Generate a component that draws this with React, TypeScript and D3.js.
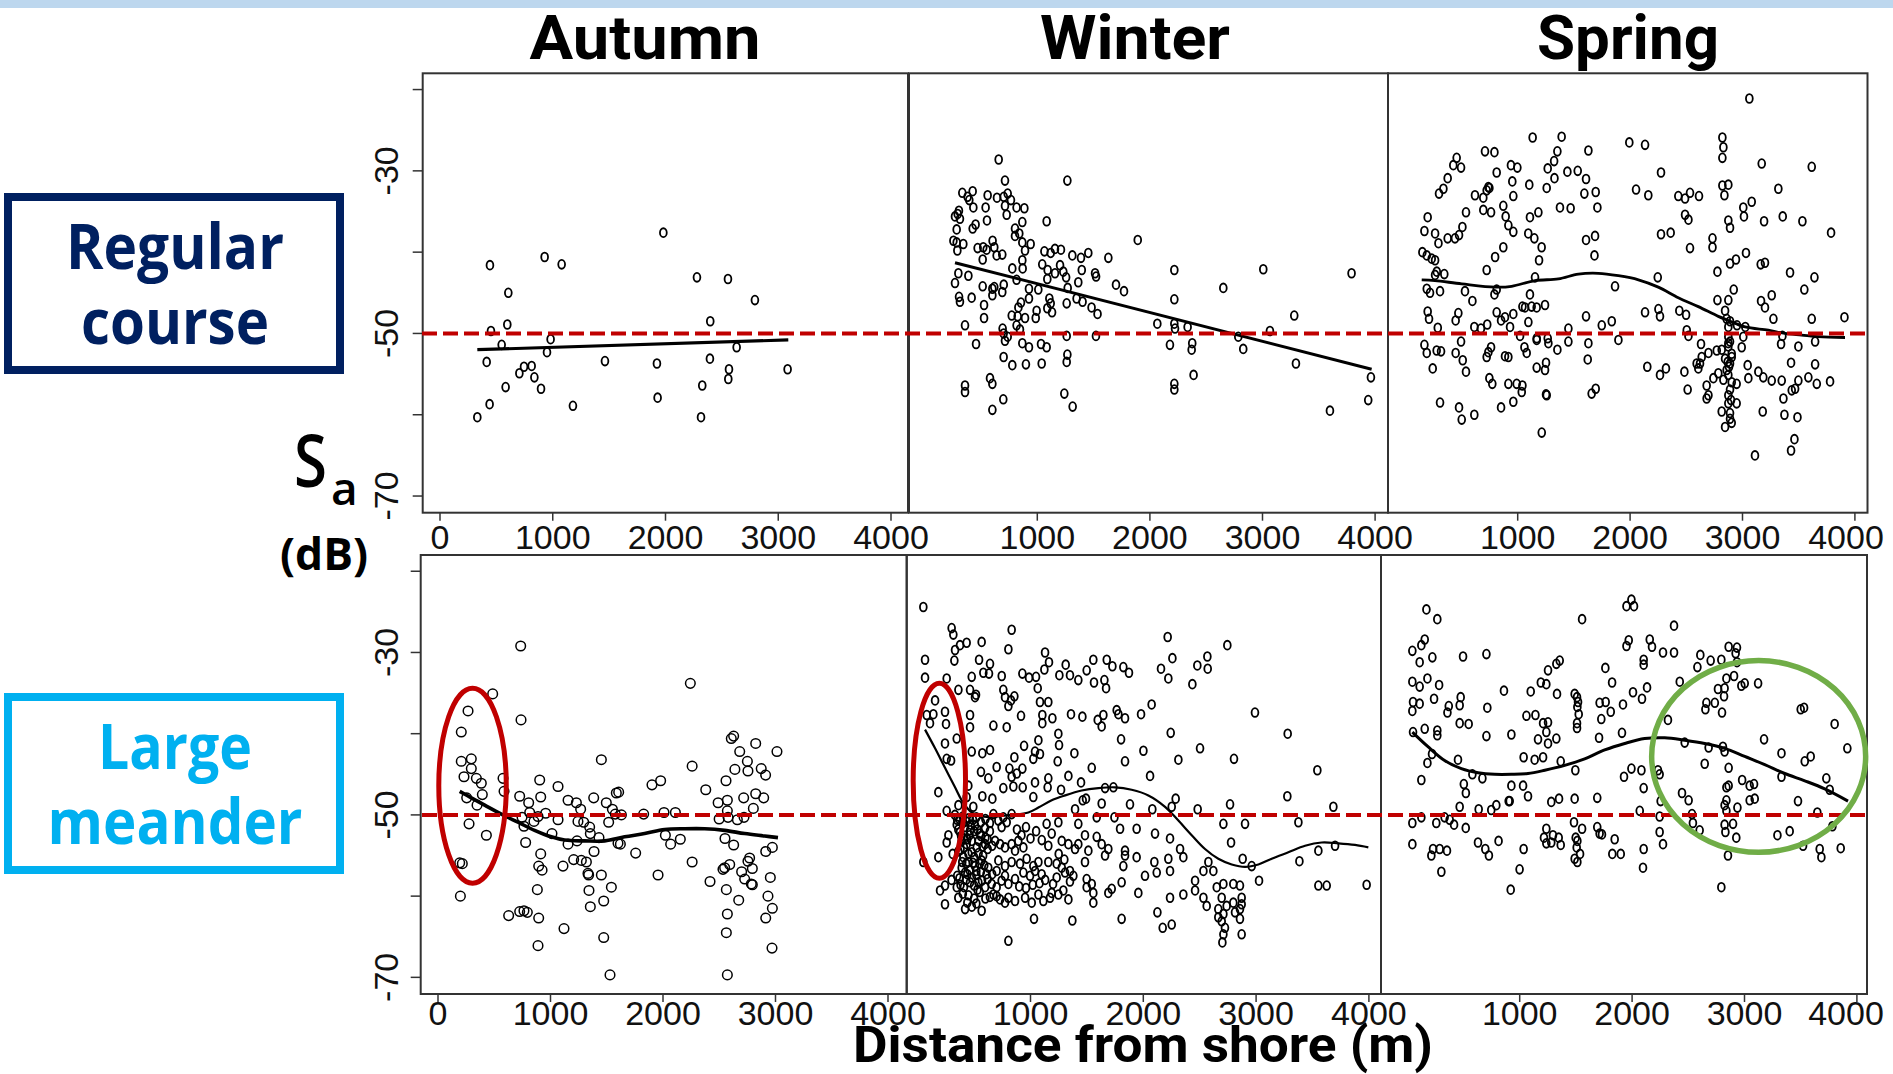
import React from 'react';
import * as d3 from 'd3';

type P = [number, number];

// ---------- data: [distance from shore (m), Sa (dB)] ----------
const autumnRegular: P[] = [[443,-41.6],[606,-45.0],[452,-49.7],[597,-48.9],[547,-51.4],[414,-53.5],[331,-60.3],[440,-58.7],[582,-56.6],[704,-54.9],[745,-54.1],[813,-54.0],[837,-55.4],[896,-56.8],[928,-40.6],[1079,-41.5],[981,-50.7],[949,-52.3],[1179,-58.9],[1463,-53.4],[1981,-37.6],[1924,-53.7],[1930,-57.9],[2279,-43.1],[2554,-43.3],[2793,-45.9],[2397,-48.5],[2631,-51.7],[2394,-53.1],[2563,-54.4],[2557,-55.6],[2326,-56.4],[2315,-60.3],[3083,-54.4]];
const autumnRegularFit: P[] = [[331,-52.0],[3089,-50.8]];

const winterRegular: P[] = [[657,-28.6],[713,-31.2],[1267,-31.2],[334,-32.7],[381,-33.2],[426,-32.5],[396,-33.6],[432,-34.5],[559,-33.0],[642,-33.3],[702,-33.2],[737,-32.8],[766,-33.6],[713,-34.3],[728,-35.4],[816,-34.5],[885,-34.6],[541,-34.5],[269,-35.6],[293,-35.3],[313,-35.9],[304,-34.9],[553,-36.1],[452,-36.6],[426,-37.1],[284,-37.2],[867,-36.3],[802,-37.1],[840,-37.7],[802,-38.0],[1083,-36.2],[255,-38.6],[284,-38.8],[343,-39.0],[290,-39.8],[470,-39.5],[520,-39.4],[550,-39.7],[603,-38.6],[618,-39.4],[867,-38.8],[941,-39.0],[891,-39.8],[639,-40.4],[689,-40.3],[515,-40.9],[1063,-39.9],[1119,-40.1],[1157,-39.6],[1210,-39.7],[1311,-40.4],[1388,-40.7],[1453,-40.1],[1631,-40.7],[1892,-38.5],[867,-41.0],[870,-42.0],[778,-42.0],[299,-42.6],[388,-42.9],[1044,-41.5],[1092,-42.2],[1089,-43.3],[1157,-42.6],[1202,-41.6],[1231,-42.4],[1256,-43.1],[1395,-42.2],[1513,-42.6],[1522,-43.0],[1364,-43.7],[269,-43.8],[515,-44.2],[601,-44.5],[702,-44.0],[618,-44.3],[816,-43.4],[926,-44.5],[1009,-44.6],[1270,-44.4],[1699,-44.0],[1770,-44.8],[305,-45.5],[313,-46.1],[417,-45.6],[601,-45.3],[689,-44.9],[527,-46.5],[926,-45.7],[855,-46.2],[832,-46.8],[1107,-45.7],[1119,-46.3],[1089,-46.9],[1131,-47.4],[1261,-46.3],[1349,-45.7],[1402,-46.1],[1482,-46.8],[1535,-47.6],[527,-48.1],[773,-47.8],[826,-47.9],[891,-48.1],[986,-48.1],[994,-47.2],[358,-49.0],[816,-49.0],[846,-49.5],[692,-49.4],[701,-50.0],[713,-50.9],[737,-50.4],[456,-51.3],[867,-51.2],[926,-51.7],[1033,-51.3],[1083,-51.7],[1261,-50.3],[1521,-50.3],[701,-52.9],[778,-53.9],[899,-53.8],[1039,-53.7],[1267,-52.6],[1261,-53.5],[2066,-48.8],[2217,-42.2],[2217,-45.8],[2217,-48.8],[2223,-49.4],[2335,-49.2],[2178,-51.4],[2376,-51.2],[2371,-52.0],[2388,-55.1],[2217,-56.2],[2217,-56.9],[2652,-44.4],[3007,-42.1],[2785,-50.4],[2829,-51.9],[3066,-49.7],[3282,-47.8],[3297,-53.7],[3791,-42.6],[3963,-55.4],[3939,-58.2],[3599,-59.5],[358,-56.4],[358,-57.2],[580,-55.5],[601,-56.2],[698,-58.1],[601,-59.4],[1240,-57.4],[1314,-59.0]];
const winterRegularFit: P[] = [[269,-41.3],[3969,-54.4]];

const springRegular: P[] = [[3061,-21.1],[1133,-25.9],[1391,-25.8],[1993,-26.5],[2133,-26.8],[2821,-25.9],[2830,-27.1],[2821,-28.4],[709,-27.6],[793,-27.7],[1353,-27.6],[1629,-27.5],[457,-28.4],[427,-29.3],[496,-29.6],[1324,-28.8],[1267,-29.7],[1327,-30.9],[940,-29.3],[997,-29.6],[813,-30.2],[1442,-30.1],[1534,-30.0],[1608,-31.0],[3171,-29.1],[3616,-29.5],[2275,-30.2],[377,-30.9],[339,-32.2],[300,-32.8],[952,-31.3],[1103,-31.7],[1258,-32.1],[748,-32.1],[724,-32.4],[739,-32.0],[620,-33.0],[694,-33.3],[961,-33.1],[1593,-32.8],[1694,-32.6],[2053,-32.3],[2162,-33.0],[2821,-31.8],[2874,-31.7],[2839,-33.0],[3319,-32.2],[2429,-33.1],[2489,-33.4],[2533,-32.7],[2613,-33.1],
[540,-35.1],[694,-34.8],[763,-35.1],[872,-34.3],[893,-35.6],[199,-35.7],[1109,-35.7],[1184,-35.1],[1376,-34.5],[1471,-34.6],[1709,-34.5],[3007,-34.5],[3082,-33.8],[3013,-35.6],[2489,-35.4],[2519,-36.0],[2874,-36.1],[2889,-37.0],[3192,-36.2],[3358,-35.6],[3533,-36.2],[917,-36.7],[961,-37.5],[508,-36.9],[265,-37.7],[170,-37.4],[295,-38.9],[377,-38.3],[442,-38.3],[478,-37.9],[1094,-37.7],[1148,-38.3],[1213,-39.4],[1608,-38.5],[1688,-38.0],[2275,-37.8],[2361,-37.6],[2533,-39.5],[2733,-38.3],[2733,-39.4],[3788,-37.6],
[152,-40.0],[191,-40.4],[235,-40.8],[265,-41.0],[799,-40.6],[872,-39.4],[1190,-41.0],[1683,-40.4],[2942,-40.9],[3031,-40.1],[2889,-41.4],[3162,-41.5],[3200,-41.3],[2777,-42.4],[724,-42.2],[280,-42.4],[347,-42.7],[265,-42.8],[3423,-42.5],[3640,-43.1],[1154,-43.1],[2246,-43.1],[1866,-44.2],[191,-44.5],[220,-45.0],[309,-44.8],[531,-44.8],[597,-46.0],[793,-45.2],[813,-44.6],[1109,-45.2],[2922,-44.6],[3550,-44.6],[3260,-45.3],[2777,-45.9],[2874,-45.9],[3165,-46.0],[3200,-46.8],[1243,-46.5],[1169,-46.8],[1042,-46.7],[1065,-46.8],[1124,-46.7],
[199,-47.3],[211,-48.2],[472,-47.5],[448,-48.4],[813,-47.4],[852,-48.4],[887,-48.0],[961,-47.6],[932,-49.2],[614,-49.2],[673,-49.4],[729,-48.9],[289,-49.3],[1608,-47.9],[1748,-49.0],[1837,-48.5],[1095,-48.6],[1451,-49.4],[2133,-47.4],[2252,-47.0],[2266,-47.9],[2438,-47.2],[2498,-47.7],[2845,-47.2],[2859,-48.2],[2889,-48.5],[2874,-49.2],[2951,-49.0],[3025,-49.2],[3275,-48.2],[3616,-48.2],[3907,-48.0],[2504,-49.6],[2519,-50.3],[1021,-50.3],[1169,-50.6],[1267,-50.6],[1896,-50.8],[3007,-50.4],[3355,-50.3],[3646,-51.0],
[170,-51.4],[191,-52.4],[279,-52.1],[318,-52.2],[448,-52.4],[496,-51.0],[511,-53.3],[244,-54.3],[540,-54.7],[724,-52.9],[763,-51.7],[739,-52.3],[887,-52.8],[917,-52.9],[1060,-51.7],[1080,-52.4],[1169,-50.8],[1273,-51.2],[1353,-52.0],[1451,-51.0],[1629,-51.2],[1623,-53.2],[1252,-53.6],[1169,-54.2],[1243,-54.5],[2631,-51.3],[2697,-52.4],[2771,-52.1],[2637,-52.9],[2622,-53.7],[2815,-52.0],[2874,-51.2],[2904,-52.5],[2993,-51.7],[2845,-53.1],[2889,-53.7],[2859,-54.5],[3343,-51.3],[3497,-51.6],[3432,-53.6],[3646,-53.8],[3046,-53.9],[2153,-54.1],[2319,-54.3],[2483,-54.7],[2592,-53.7],[2607,-54.3],
[2266,-55.1],[748,-55.5],[774,-56.2],[917,-56.2],[991,-56.2],[1042,-56.4],[1036,-57.2],[1252,-57.5],[1258,-57.6],[1658,-57.4],[1694,-56.8],[2512,-56.9],[2681,-56.4],[2741,-55.5],[2785,-54.9],[2830,-55.7],[2697,-57.6],[2681,-58.0],[2874,-55.1],[2904,-56.0],[2948,-56.2],[3052,-55.5],[3141,-54.7],[3185,-55.4],[3260,-55.8],[3349,-55.8],[3438,-57.0],[3468,-56.8],[3497,-55.8],[3586,-55.4],[3661,-56.2],[3779,-55.9],[3364,-58.0],
[309,-58.5],[478,-59.1],[502,-60.6],[614,-60.0],[852,-59.1],[961,-58.4],[1214,-62.2],[2815,-59.6],[2845,-61.5],[2904,-61.0],[2948,-58.6],[2874,-58.6],[2889,-59.8],[2889,-60.5],[3180,-59.6],[3373,-60.0],[3489,-60.3],[3462,-63.0],[3432,-64.4],[3111,-65.0],
[2874,-50.4],[2889,-51.0],[2874,-51.6],[2904,-52.9],[2868,-53.5],[2880,-54.1],[2889,-56.9],[2874,-57.6],[2898,-58.2]];
const springRegularFit: P[] = [[146,-43.4],[264,-43.5],[502,-43.9],[798,-44.3],[946,-44.2],[1154,-43.5],[1362,-43.3],[1540,-42.7],[1718,-42.6],[1896,-42.9],[2074,-43.4],[2251,-44.3],[2429,-45.6],[2607,-46.7],[2785,-47.9],[2874,-48.4],[3023,-49.2],[3230,-49.6],[3378,-50.0],[3527,-50.2],[3675,-50.4],[3912,-50.5]];

const autumnMeander: P[] = [[735,-29.2],[2243,-33.8],[486,-35.1],[267,-37.2],[738,-38.3],[207,-39.8],[207,-43.4],[296,-43.1],[231,-45.3],[296,-44.3],[341,-45.5],[385,-46.1],[394,-47.5],[255,-47.9],[347,-48.8],[276,-51.1],[430,-52.5],[193,-55.9],[216,-56.0],[199,-60.0],[578,-45.5],[587,-47.1],[726,-47.7],[806,-48.5],[913,-47.8],[904,-45.7],[815,-49.7],[747,-50.3],[764,-51.4],[853,-50.8],[889,-50.2],[957,-49.8],[779,-53.4],[913,-54.8],[895,-56.3],[925,-56.8],[883,-59.2],[628,-62.4],[726,-61.9],[764,-61.8],[794,-62.0],[895,-62.7],[889,-66.1],[1067,-46.5],[1156,-48.2],[1230,-48.5],[1268,-49.3],[1067,-50.6],[1013,-52.3],[1156,-53.6],[1236,-53.2],[1244,-50.8],[1295,-50.9],[1348,-51.5],[1354,-52.3],[1384,-47.9],[1387,-54.5],[1206,-55.5],[1274,-55.6],[1319,-55.8],[1111,-56.3],[1333,-57.2],[1339,-57.4],[1431,-52.8],[1452,-57.4],[1342,-59.3],[1354,-61.3],[1541,-58.9],[1473,-60.6],[1473,-65.1],[1120,-64.0],[1529,-69.7],[1452,-43.2],[1496,-48.5],[1550,-49.3],[1576,-49.9],[1630,-50.0],[1517,-50.9],[1585,-47.3],[1606,-47.2],[1600,-53.5],[1621,-53.6],[1757,-54.7],[1828,-49.9],[1902,-46.3],[1979,-45.8],[2009,-49.7],[2110,-49.7],[2021,-52.5],[2068,-53.6],[2154,-53.0],[1956,-57.4],[2259,-44.0],[2380,-46.9],[2490,-48.5],[2499,-50.5],[2259,-55.8],[2418,-58.2],[2607,-40.6],[2628,-40.3],[2682,-42.2],[2750,-43.4],[2824,-41.2],[3013,-42.2],[2639,-44.4],[2755,-44.6],[2873,-44.3],[2912,-45.1],[2560,-45.8],[2572,-48.2],[2717,-47.9],[2824,-47.4],[2895,-47.9],[2572,-49.5],[2578,-50.3],[2661,-50.6],[2720,-50.3],[2803,-49.2],[2551,-52.9],[2628,-53.7],[2913,-54.5],[2972,-54.0],[2533,-56.7],[2548,-56.5],[2593,-56.1],[2770,-55.3],[2755,-55.7],[2699,-57.0],[2794,-56.6],[2726,-57.9],[2785,-58.5],[2794,-58.6],[2563,-59.2],[2673,-60.5],[2954,-57.7],[2933,-60.0],[2972,-61.5],[2913,-62.7],[2572,-62.2],[2563,-64.5],[2969,-66.4],[2572,-69.7]];
const autumnMeanderFit: P[] = [[193,-47.1],[296,-47.9],[415,-48.8],[563,-49.9],[711,-50.9],[859,-51.9],[1007,-52.7],[1126,-53.1],[1304,-53.2],[1482,-53.2],[1659,-52.7],[1837,-52.3],[2015,-51.8],[2193,-51.7],[2370,-51.7],[2548,-51.9],[2726,-52.3],[2904,-52.6],[3022,-52.8]];

const winterMeander: P[] = [[50,-24.4],[301,-27.0],[316,-27.8],[833,-27.2],[65,-30.9],[65,-33.1],[331,-29.7],[375,-29.1],[434,-28.8],[567,-28.7],[325,-31.0],[804,-29.6],[544,-30.9],[641,-31.4],[582,-32.5],[632,-32.6],[479,-33.0],[257,-33.2],[361,-34.6],[745,-32.9],[1129,-30.0],[1164,-31.2],[1123,-32.1],[1049,-33.0],[928,-32.6],[987,-33.1],[1312,-31.5],[1350,-32.8],[1424,-33.4],[1256,-32.8],[1498,-32.2],[1557,-30.9],[1676,-30.9],[1726,-31.7],[1823,-31.8],[1873,-32.5],[1563,-33.7],[1655,-33.4],[1670,-34.4],[2216,-28.1],[2157,-32.0],[2222,-33.2],[2258,-30.7],[2568,-30.5],[2479,-31.6],[2571,-32.0],[2435,-33.9],[2745,-29.1],[464,-34.6],[508,-35.5],[517,-35.2],[759,-34.6],[774,-35.5],[827,-35.9],[857,-35.4],[804,-36.6],[1064,-34.4],[1084,-36.1],[1158,-36.1],[154,-35.9],[242,-37.3],[139,-37.6],[80,-37.7],[109,-38.7],[251,-38.8],[242,-41.2],[257,-43.1],[296,-43.3],[346,-40.6],[464,-37.7],[464,-39.2],[671,-39.0],[789,-39.2],[916,-37.8],[1105,-37.7],[1105,-38.7],[1194,-38.1],[1359,-37.6],[1460,-37.9],[1596,-38.3],[1631,-39.1],[1646,-37.7],[1764,-37.1],[1779,-37.6],[1838,-38.1],[1980,-37.6],[2074,-36.4],[2990,-37.4],[3280,-40.0],[1247,-40.0],[1253,-41.4],[1070,-40.8],[1040,-42.2],[1084,-42.5],[1025,-43.1],[943,-41.5],[857,-42.9],[928,-44.3],[878,-44.9],[641,-42.0],[573,-42.4],[479,-42.2],[700,-44.1],[626,-45.5],[561,-44.7],[813,-44.3],[833,-45.3],[1389,-42.4],[1241,-43.4],[1543,-44.2],[1803,-40.7],[1838,-43.4],[2001,-42.1],[2243,-39.9],[2311,-43.2],[2503,-41.8],[2804,-43.1],[3543,-44.5],[2060,-45.2],[1336,-45.2],[1448,-46.0],[1158,-45.5],[1152,-46.6],[1040,-46.0],[1025,-47.8],[759,-46.7],[848,-46.5],[931,-46.6],[449,-46.4],[573,-47.7],[662,-48.0],[183,-47.2],[1271,-46.9],[1395,-49.3],[1463,-48.2],[1492,-48.0],[1631,-48.6],[1661,-46.7],[1735,-46.6],[1882,-48.7],[2080,-49.3],[2252,-49.0],[2287,-48.0],[2482,-49.3],[2769,-48.7],[3277,-47.7],[3685,-49.0],[257,-49.5],[361,-48.8],[434,-47.8],[493,-49.0],
[346,-51.2],[375,-52.1],[420,-51.5],[464,-51.9],[508,-51.3],[552,-52.3],[597,-51.6],[390,-53.2],[434,-53.6],[479,-53.2],[523,-54.0],[597,-53.6],[479,-54.6],[405,-55.2],[449,-55.8],[508,-56.3],[567,-55.6],[626,-56.5],[390,-56.5],[420,-57.1],[479,-57.7],[538,-58.3],[597,-58.9],[656,-58.5],[464,-58.3],[671,-49.9],[715,-50.7],[759,-50.3],[789,-50.9],[833,-49.9],[744,-51.5],[686,-53.2],[730,-53.6],[774,-54.0],[833,-53.6],[892,-53.2],[937,-54.0],[863,-54.4],[715,-55.6],[774,-56.3],[833,-55.8],[907,-56.0],[966,-55.4],[1025,-56.3],[1070,-55.8],[700,-56.9],[774,-57.5],[744,-58.1],[804,-58.5],[863,-57.9],[937,-57.1],[996,-57.5],[1040,-56.9],[1099,-57.3],[671,-59.8],[730,-60.4],[774,-60.8],[804,-60.2],[863,-60.6],[952,-60.2],[1011,-60.8],[1070,-59.8],[1114,-60.6],[420,-61.6],[567,-61.8],[242,-61.0],[198,-59.3],[346,-58.9],[242,-58.7],[1031,-62.8],[1371,-63.0],[1808,-62.8],[804,-65.5],[183,-55.2],[272,-52.5],[257,-53.4],[50,-55.8],[1143,-51.1],[1188,-52.3],[1247,-50.9],[1277,-53.2],[1336,-53.6],[1395,-54.2],[1158,-53.8],[1158,-55.8],[1232,-56.0],[1277,-56.5],[1306,-57.1],[1350,-56.9],[1380,-57.5],[1232,-57.7],[1188,-59.6],[1247,-59.8],[1291,-59.3],[1336,-60.4],[1173,-60.2],[1424,-51.1],[1483,-52.5],[1587,-52.7],[1631,-53.6],[1690,-54.2],[1661,-55.0],[1513,-54.4],[1424,-53.6],[1483,-55.8],[1498,-57.9],[1543,-58.5],[1498,-58.9],[1557,-59.6],[1557,-60.8],[1690,-59.6],[1720,-59.1],[1808,-58.3],[1587,-50.3],[1744,-50.3],[1794,-51.7],[1941,-51.7],[1838,-54.4],[1838,-55.0],[1941,-55.2],[1823,-56.3],[1956,-59.6],[2015,-57.5],[2098,-55.8],[2119,-57.1],[2104,-52.3],[2237,-52.9],[2222,-55.4],[2237,-56.9],[2237,-60.2],[2172,-63.9],[2252,-63.5],[2125,-62.0],[2355,-59.8],[2326,-54.2],[2355,-55.2],[2459,-58.1],[2459,-59.3],[2533,-60.2],[2562,-61.2],[2533,-56.9],[2621,-56.9],[2577,-55.8],[2651,-58.9],[2710,-58.5],[2695,-60.2],[2665,-61.6],[2710,-62.2],[2695,-63.1],[2724,-63.9],[2710,-64.7],[2739,-61.2],[2665,-62.6],[2701,-65.7],[2798,-58.5],[2857,-58.7],[2872,-60.2],[2857,-61.6],[2813,-62.0],[2857,-62.8],[2872,-64.7],[2798,-60.8],[2872,-61.0],[2710,-51.1],[2902,-51.1],[2778,-53.4],[2881,-55.4],[2961,-56.3],[3026,-58.1],[3375,-50.9],[3384,-55.7],[3552,-58.7],[3626,-58.7],[3980,-58.6],[3552,-54.4],[3700,-53.8],
[370,-50.5],[400,-50.2],[430,-50.8],[455,-50.4],[490,-50.6],[520,-50.3],[560,-50.9],[600,-50.5],[640,-51.0],[380,-54.3],[410,-54.0],[450,-54.8],[500,-55.2],[540,-54.7],[580,-55.0],[620,-54.2],[660,-53.8],[370,-57.8],[430,-58.0],[520,-57.4],[560,-57.0],[620,-57.9],[660,-57.3],[700,-58.9],[400,-59.7],[450,-59.9],[500,-60.3],[550,-59.5],[640,-60.1],[700,-60.0],[880,-51.8],[920,-52.5],[960,-51.5],[1000,-52.9],[1050,-52.0],[1100,-53.1],[900,-58.8],[960,-59.0],[1020,-58.6],[1080,-58.4],[1130,-58.0],[1200,-58.5],[1250,-54.8],[1300,-55.5],[1350,-58.2],
[330,-50.0],[350,-50.6],[360,-51.8],[385,-52.6],[400,-51.0],[415,-52.9],[440,-53.0],[460,-52.5],[470,-51.2],[500,-52.0],[530,-51.8],[540,-53.2],[560,-52.6],[575,-53.9],[600,-52.8],[620,-53.0],[640,-52.0],[360,-54.5],[395,-55.8],[430,-56.0],[460,-56.8],[490,-55.9],[520,-56.9],[550,-56.0],[590,-56.2],[610,-57.3],[350,-57.5],[380,-58.6],[410,-58.9],[440,-57.3],[500,-58.7],[530,-59.2],[570,-58.1],[600,-60.3],[440,-60.8],[480,-61.3],[520,-60.9],[360,-60.2],[310,-54.8],[300,-58.0]];
const winterMeanderFit: P[] = [[65,-39.5],[154,-41.8],[242,-44.2],[331,-46.6],[390,-48.2],[479,-49.7],[567,-50.2],[686,-50.2],[833,-50.0],[981,-49.7],[1070,-49.1],[1188,-48.2],[1306,-47.6],[1454,-47.0],[1602,-46.7],[1749,-46.6],[1897,-46.9],[2045,-47.6],[2193,-49.0],[2311,-50.7],[2429,-52.5],[2547,-54.2],[2665,-55.4],[2784,-56.1],[2902,-56.4],[3020,-56.1],[3138,-55.4],[3286,-54.6],[3434,-53.8],[3581,-53.4],[3729,-53.5],[3877,-53.7],[3995,-54.0]];

const springMeander: P[] = [[170,-24.7],[267,-25.9],[1555,-25.9],[1994,-23.5],[1950,-24.3],[2017,-24.3],[2373,-26.7],[45,-29.8],[125,-29.1],[155,-28.4],[110,-31.2],[223,-30.6],[496,-30.5],[704,-30.2],[1356,-31.0],[1326,-31.4],[1252,-32.2],[1762,-31.9],[1950,-29.2],[1970,-28.5],[2157,-28.4],[2177,-29.3],[2275,-30.0],[2373,-30.0],[2103,-30.9],[2103,-31.5],[2607,-30.3],[2699,-31.0],[2794,-30.9],[2859,-29.3],[2933,-29.4],[2921,-30.1],[2933,-31.2],[2581,-31.8],[45,-33.6],[110,-34.2],[179,-33.2],[283,-34.0],[1188,-33.7],[1237,-33.9],[860,-34.7],[1098,-34.8],[1332,-35.1],[1489,-35.1],[1519,-36.1],[1510,-35.5],[1822,-33.7],[2133,-34.3],[2008,-34.9],[2088,-35.7],[2424,-33.6],[2907,-32.9],[2839,-33.2],[3002,-33.8],[2972,-34.1],[3121,-33.8],[2764,-34.5],[2823,-34.4],[2818,-35.4],[51,-36.1],[110,-36.3],[238,-35.7],[369,-36.6],[475,-35.5],[466,-36.5],[357,-37.4],[45,-37.2],[155,-39.4],[267,-39.6],[267,-40.2],[51,-39.8],[466,-38.7],[546,-38.8],[712,-36.8],[704,-40.3],[926,-40.1],[1060,-37.8],[1140,-37.7],[1208,-38.7],[1252,-38.6],[1237,-39.8],[1163,-40.7],[1252,-41.2],[1326,-40.6],[1513,-36.7],[1525,-37.6],[1510,-38.7],[1510,-39.3],[1711,-36.2],[1765,-36.1],[1810,-37.3],[1726,-38.2],[1919,-36.4],[1910,-39.9],[1706,-40.5],[2661,-36.2],[2736,-36.2],[2652,-37.0],[2800,-37.4],[2319,-38.3],[3530,-36.8],[3500,-37.0],[3802,-38.8],[3174,-40.7],[3329,-42.4],[3589,-42.8],[3536,-43.4],[3915,-41.8],[3728,-45.5],[3758,-46.9],[3476,-48.3],[3648,-49.7],[220,-42.5],[179,-43.6],[451,-43.2],[125,-45.7],[579,-45.0],[668,-45.5],[503,-46.2],[521,-47.3],[1035,-42.9],[1133,-43.2],[1208,-42.9],[1365,-43.4],[1495,-44.5],[926,-46.4],[1030,-46.4],[1074,-47.7],[1690,-47.9],[1489,-48.0],[1350,-48.0],[1281,-48.4],[911,-48.3],[1928,-45.3],[1994,-44.3],[2083,-44.5],[2103,-46.7],[2230,-44.5],[2245,-45.0],[2646,-43.7],[2681,-41.7],[2468,-41.1],[2859,-44.2],[2823,-42.2],[2808,-41.6],[3329,-45.3],[2839,-46.6],[2859,-46.4],[2979,-45.7],[3046,-46.4],[3085,-46.2],[2823,-48.8],[2839,-48.2],[2937,-49.1],[3046,-48.2],[3091,-48.0],[2444,-47.3],[2503,-48.2],[2254,-48.3],[466,-49.0],[635,-49.3],[747,-49.4],[792,-48.8],[902,-48.3],[332,-50.3],[377,-50.6],[416,-51.2],[520,-51.6],[258,-51.0],[125,-50.3],[45,-51.0],[45,-53.6],[214,-55.0],[229,-54.2],[288,-54.2],[353,-54.4],[303,-57.0],[629,-53.4],[694,-54.2],[726,-55.0],[812,-53.2],[1035,-54.2],[999,-56.7],[920,-59.2],[1237,-51.7],[1296,-52.5],[1347,-52.8],[1237,-53.5],[1281,-53.4],[1365,-53.7],[1216,-52.8],[1483,-50.9],[1555,-51.7],[1498,-52.8],[1513,-53.2],[1507,-54.0],[1537,-54.8],[1489,-55.4],[1513,-55.8],[1690,-51.5],[1711,-52.3],[1732,-52.4],[1845,-53.0],[1824,-54.8],[1899,-54.8],[2068,-49.5],[2103,-54.2],[2097,-56.5],[2245,-50.2],[2245,-52.1],[2275,-53.6],[2533,-49.9],[2541,-51.0],[2601,-51.9],[2823,-51.2],[2830,-52.1],[2898,-51.1],[2927,-52.8],[2839,-49.5],[2794,-58.9],[2853,-55.0],[3293,-52.5],[3402,-52.0],[3521,-53.8],[3669,-54.2],[3684,-55.2],[3856,-54.1],[3782,-51.4]];
const springMeanderFit: P[] = [[45,-39.8],[184,-41.6],[332,-43.3],[481,-44.3],[629,-44.8],[777,-45.0],[926,-45.0],[1074,-44.9],[1223,-44.5],[1400,-43.9],[1578,-43.1],[1756,-42.0],[1934,-41.2],[2112,-40.6],[2290,-40.5],[2468,-40.8],[2646,-41.2],[2824,-41.8],[3002,-42.8],[3180,-43.8],[3358,-44.9],[3536,-45.8],[3714,-46.8],[3921,-48.3]];

const seasons = ['Autumn', 'Winter', 'Spring'];
const courseLines = [['Regular', 'course'], ['Large', 'meander']];
const yTicks = [-20, -30, -40, -50, -60, -70];
const yLabels = [-30, -50, -70];
const xTicksFirst = [0, 1000, 2000, 3000, 4000];
const xTicksOther = [1000, 2000, 3000, 4000];
const threshold = -50;
const yDomain: [number, number] = [-72.05, -18];
// highlighted clusters: [panel index, centre x (m), centre Sa (dB), half-width (m), half-height (dB), colour]
const highlights: [number, number, number, number, number, string][] = [
  [3, 307, -46.4, 300, 12, '#C00000'],
  [4, 192, -45.8, 232, 12, '#C00000'],
  [5, 3126, -42.8, 952, 11.8, '#70AD47'],
];

// ---------- layout ----------
const W = 1893, H = 1074;
const rows = [{ top: 73.3, bottom: 512.7, labelY: 549 }, { top: 555, bottom: 994, labelY: 1025 }];
const panelDefs = [
  { row: 0, left: 422.7, right: 908, zero: 440, k: 0.11275, data: autumnRegular, fit: autumnRegularFit, smooth: false, first: true, big: false, lw: 3.2 },
  { row: 0, left: 909, right: 1388, zero: 924.7, k: 0.1126, data: winterRegular, fit: winterRegularFit, smooth: false, first: false, big: false, lw: 3 },
  { row: 0, left: 1388, right: 1867.5, zero: 1405.3, k: 0.1124, data: springRegular, fit: springRegularFit, smooth: true, first: false, big: false, lw: 2.8 },
  { row: 1, left: 420.7, right: 906.7, zero: 438, k: 0.1125, data: autumnMeander, fit: autumnMeanderFit, smooth: true, first: true, big: true, lw: 3.6 },
  { row: 1, left: 906.7, right: 1381, zero: 917.7, k: 0.1128, data: winterMeander, fit: winterMeanderFit, smooth: true, first: false, big: false, lw: 2.2 },
  { row: 1, left: 1381, right: 1867, zero: 1407.3, k: 0.1124, data: springMeander, fit: springMeanderFit, smooth: true, first: false, big: false, lw: 3 },
];
const titleX = [645, 1135, 1628];
const titleLen = [231, 190, 182];
const labelMaxRight = 1884;

const sansBold = "'Open Sans', 'Noto Sans', sans-serif";
const titleFont = "Roboto, 'Open Sans', sans-serif";
const tickFont = "'Liberation Sans', Arial, sans-serif";

export default function App() {
  const panels = panelDefs.map((p) => {
    const r = rows[p.row];
    const x = d3.scaleLinear().domain([(p.left - p.zero) / p.k, (p.right - p.zero) / p.k]).range([p.left, p.right]);
    const y = d3.scaleLinear().domain(yDomain).range([r.bottom, r.top]);
    const line = d3.line<P>().x((d) => x(d[0])).y((d) => y(d[1])).curve(p.smooth ? d3.curveCatmullRom.alpha(0.5) : d3.curveLinear);
    return { ...p, r, x, y, path: line(p.fit) || '' };
  });

  return (
    <svg width={W} height={H} style={{ position: 'absolute', left: 0, top: 0, background: '#fff' }} xmlns="http://www.w3.org/2000/svg">
      <rect x={0} y={0} width={W} height={H} fill="#fff" />
      <rect x={0} y={0} width={W} height={8} fill="#BDD7EE" />

      {seasons.map((s, i) => (
        <text key={s} x={titleX[i]} y={58.6} textAnchor="middle" fontFamily={titleFont} fontWeight={700} fontSize={62}
          textLength={titleLen[i]} lengthAdjust="spacingAndGlyphs" fill="#000">{s}</text>
      ))}

      {panels.map((p, i) => (
        <g key={i}>
          {p.data.map((d, j) => p.big
            ? <circle key={j} cx={p.x(d[0])} cy={p.y(d[1])} r={4.8} fill="none" stroke="#000" strokeWidth={1.5} />
            : <ellipse key={j} cx={p.x(d[0])} cy={p.y(d[1])} rx={3.4} ry={4.4} fill="none" stroke="#000" strokeWidth={1.8} />)}
          <path d={p.path} fill="none" stroke="#000" strokeWidth={p.lw} strokeLinejoin="round" />
          <rect x={p.left} y={p.r.top} width={p.right - p.left} height={p.r.bottom - p.r.top} fill="none" stroke="#333" strokeWidth={2} />
          {(p.first ? xTicksFirst : xTicksOther).map((t) => (
            <g key={t}>
              <line x1={p.x(t)} x2={p.x(t)} y1={p.r.bottom} y2={p.r.bottom + 8} stroke="#333" strokeWidth={1.5} />
              <text x={Math.min(p.x(t), labelMaxRight - 38)} y={p.r.labelY} textAnchor="middle" fontFamily={tickFont} fontSize={34} fill="#111">{t}</text>
            </g>
          ))}
          {p.first && yTicks.map((t) => (
            <line key={t} x1={p.left - 10} x2={p.left} y1={p.y(t)} y2={p.y(t)} stroke="#333" strokeWidth={1.5} />
          ))}
          {p.first && yLabels.map((t) => (
            <text key={'l' + t} transform={`translate(398,${p.y(t)}) rotate(-90)`} textAnchor="middle" fontFamily={tickFont} fontSize={34} fill="#111">{t}</text>
          ))}
        </g>
      ))}

      {rows.map((r, i) => {
        const y = panels[i * 3].y(threshold);
        return <line key={i} x1={422} x2={1870} y1={y} y2={y} stroke="#C00000" strokeWidth={4} strokeDasharray="15 6" />;
      })}

      {highlights.map(([pi, cx, cy, hw, hh, col], i) => {
        const p = panels[pi];
        return <ellipse key={i} cx={p.x(cx)} cy={p.y(cy)} rx={p.x(cx + hw) - p.x(cx)} ry={p.y(cy - hh) - p.y(cy)}
          fill="none" stroke={col} strokeWidth={i === 2 ? 5.5 : 5} />;
      })}

      {courseLines.map((lines, i) => {
        const top = i === 0 ? 197 : 697;
        const col = i === 0 ? '#002060' : '#00B0F0';
        const lens = i === 0 ? [218, 188] : [154, 255];
        return (
          <g key={i}>
            <rect x={8} y={top} width={332} height={173} fill="none" stroke={col} strokeWidth={8} />
            {lines.map((t, j) => (
              <text key={t} x={175} y={top + 72 + j * 75} textAnchor="middle" fontFamily={sansBold} fontWeight={700} fontSize={62}
                textLength={lens[j]} lengthAdjust="spacingAndGlyphs" fill={col}>{t}</text>
            ))}
          </g>
        );
      })}

      <text x={327} y={487} textAnchor="end" fontFamily={sansBold} fontWeight={600} fontSize={72} fill="#000"
        textLength={33} lengthAdjust="spacingAndGlyphs">S</text>
      <text x={331} y={505} fontFamily={sansBold} fontWeight={600} fontSize={46} fill="#000">a</text>
      <text x={324} y={570} textAnchor="middle" fontFamily={sansBold} fontWeight={700} fontSize={45} fill="#000"
        textLength={88} lengthAdjust="spacingAndGlyphs">(dB)</text>

      <text x={1143} y={1062} textAnchor="middle" fontFamily={titleFont} fontWeight={700} fontSize={50} fill="#000"
        textLength={580} lengthAdjust="spacingAndGlyphs">Distance from shore (m)</text>
    </svg>
  );
}
